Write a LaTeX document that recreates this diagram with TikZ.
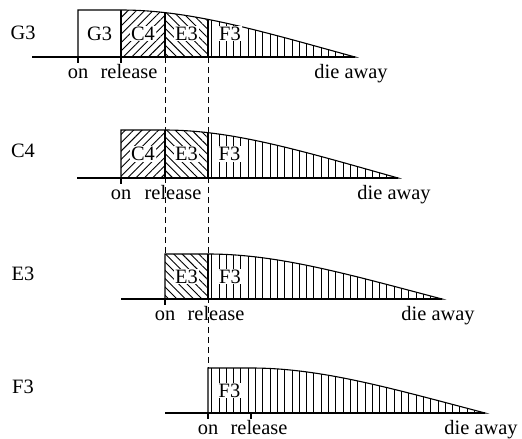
\documentclass[tikz,border=0pt]{standalone}
\usepackage{fontspec}
\setmainfont{Liberation Serif}
\usetikzlibrary{patterns.meta}

\tikzset{
  envelope/.style={insert path={(0,0) -- (0,-#1) -- (43,-#1) .. controls (113,-#1) and (183,-0.55*#1) .. (277,0) -- cycle}},
  outline/.style={line width=1.1pt},
  hatchne/.style={pattern={Lines[angle=45,distance=5.9pt,line width=0.9pt]}},
  hatchnw/.style={pattern={Lines[angle=-45,distance=5.9pt,line width=0.9pt]}},
  hatchv/.style={pattern={Lines[angle=90,distance=7.3pt,line width=0.9pt]}},
  boxlabel/.style={fill=white, inner sep=1pt},
  timelabel/.style={anchor=base, inner sep=0pt},
  guide/.style={line width=0.9pt, dash pattern=on 6pt off 4pt}
}

\begin{document}
\begin{tikzpicture}[x=1pt, y=-1pt, font=\fontsize{20.4}{24}\selectfont]

    \useasboundingbox (0,0) rectangle (522,439);

    % --- Row names ---
    \node (nameG) at (23,33) {G3};
    \node (nameC) at (23,151) {C4};
    \node (nameE) at (23,274) {E3};
    \node (nameF) at (23,387) {F3};

    % --- 1. G3 row ---
    \begin{scope}[shift={(78,57)}]
        \begin{scope} \clip (43,0) rectangle (87,-60); \fill[hatchne, envelope=47]; \end{scope}
        \begin{scope} \clip (87,0) rectangle (130,-60); \fill[hatchnw, envelope=47]; \end{scope}
        \begin{scope} \clip (130,0) rectangle (280,-60); \fill[hatchv, envelope=47]; \end{scope}
        \begin{scope} \clip[envelope=47]; \draw[outline] (43,0) -- (43,-60) (87,0) -- (87,-60) (130,0) -- (130,-60); \end{scope}
        \draw[outline, envelope=47];
        \draw[outline] (-46,0) -- (277,0);
        \draw[outline] (0,0) -- (0,6) (43,0) -- (43,6);

        \node[boxlabel] (g3g3) at (21.5,-23.5) {G3};
        \node[boxlabel] (g3c4) at (65,-23.5) {C4};
        \node[boxlabel] (g3e3) at (108.5,-23.5) {E3};
        \node[boxlabel] (g3f3) at (152,-23.5) {F3};

        \node[timelabel] (g3on) at (0,21) {on};
        \node[timelabel] (g3rel) at (51,21) {release};
        \node[timelabel] (g3die) at (273,21) {die away};
    \end{scope}

    % --- 2. C4 row ---
    \begin{scope}[shift={(121,178)}]
        \begin{scope} \clip (0,0) rectangle (44,-60); \fill[hatchne, envelope=48]; \end{scope}
        \begin{scope} \clip (44,0) rectangle (87,-60); \fill[hatchnw, envelope=48]; \end{scope}
        \begin{scope} \clip (87,0) rectangle (280,-60); \fill[hatchv, envelope=48]; \end{scope}
        \begin{scope} \clip[envelope=48]; \draw[outline] (44,0) -- (44,-60) (87,0) -- (87,-60); \end{scope}
        \draw[outline, envelope=48];
        \draw[outline] (-44,0) -- (277,0);
        \draw[outline] (0,0) -- (0,6);

        \node[boxlabel] (c4c4) at (22,-24) {C4};
        \node[boxlabel] (c4e3) at (65.5,-24) {E3};
        \node[boxlabel] (c4f3) at (108.5,-24) {F3};

        \node[timelabel] (c4on) at (0,21) {on};
        \node[timelabel] (c4rel) at (52,21) {release};
        \node[timelabel] (c4die) at (273,21) {die away};
    \end{scope}

    % --- 3. E3 row ---
    \begin{scope}[shift={(165,299)}]
        \begin{scope} \clip (0,0) rectangle (43,-60); \fill[hatchnw, envelope=45]; \end{scope}
        \begin{scope} \clip (43,0) rectangle (280,-60); \fill[hatchv, envelope=45]; \end{scope}
        \begin{scope} \clip[envelope=45]; \draw[outline] (43,0) -- (43,-60); \end{scope}
        \draw[outline, envelope=45];
        \draw[outline] (-44,0) -- (277,0);
        \draw[outline] (0,0) -- (0,6);

        \node[boxlabel] (e3e3) at (21.5,-22.5) {E3};
        \node[boxlabel] (e3f3) at (65,-22.5) {F3};

        \node[timelabel] (e3on) at (0,21) {on};
        \node[timelabel] (e3rel) at (51,21) {release};
        \node[timelabel] (e3die) at (273,21) {die away};
    \end{scope}

    % --- 4. F3 row ---
    \begin{scope}[shift={(208,413)}]
        \fill[hatchv, envelope=45];
        \draw[outline, envelope=45];
        \draw[outline] (-43,0) -- (277,0);
        \draw[outline] (0,0) -- (0,6) (43,0) -- (43,6);

        \node[boxlabel] (f3f3) at (21.5,-22.5) {F3};

        \node[timelabel] (f3on) at (0,21) {on};
        \node[timelabel] (f3rel) at (51,21) {release};
        \node[timelabel] (f3die) at (273,21) {die away};
    \end{scope}

    % --- 5. Release guides ---
    \coordinate (relA) at (165,57);
    \coordinate (endA) at (165,254);
    \coordinate (relB) at (208,57);
    \coordinate (endB) at (208,368);
    \draw[guide] (relA) -- (endA);
    \draw[guide] (relB) -- (endB);

\end{tikzpicture}
\end{document}
